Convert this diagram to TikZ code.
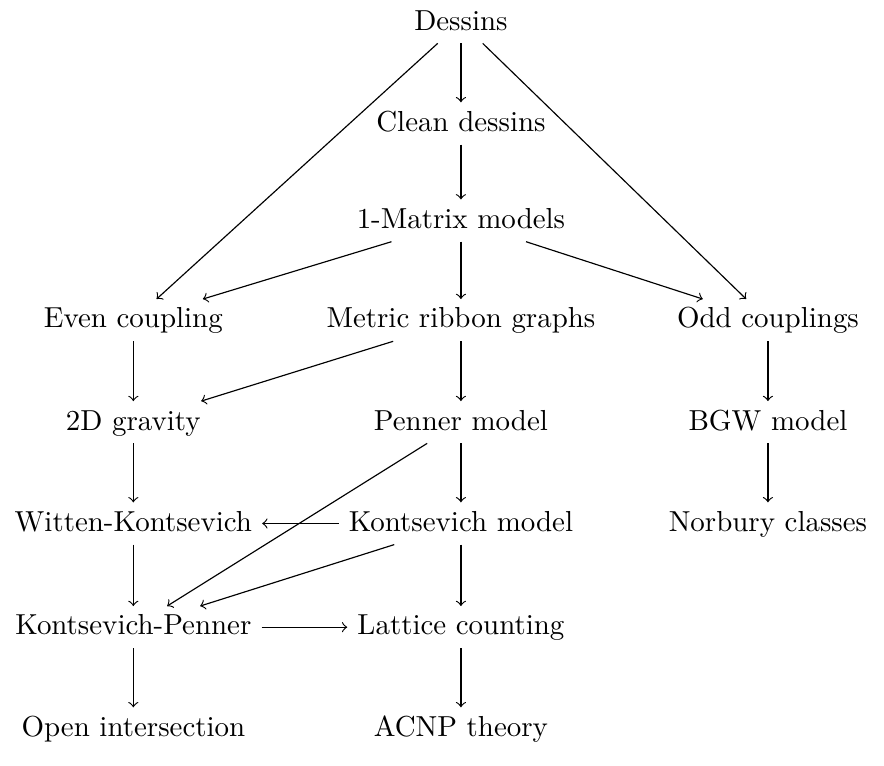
\documentclass[tikz,border=0pt]{standalone}
\usepackage{amsmath}
\usepackage{amssymb}
\usepackage{tikz}

\begin{document}
\begin{tikzpicture}[every node/.style={text height=1.5ex,text depth=.25ex}]
\useasboundingbox (0,0) rectangle (10.74,-9.3);
\node (dessins) at (5.60,-0.27) {Dessins};
\node (clean) at (5.60,-1.50) {Clean dessins};
\node (matrix) at (5.60,-2.68) {1-Matrix models};
\node (even) at (1.62,-3.89) {Even coupling};
\node (ribbon) at (5.60,-3.89) {Metric ribbon graphs};
\node (odd) at (9.33,-3.89) {Odd couplings};
\node (gravity) at (1.62,-5.13) {2D gravity};
\node (penner) at (5.60,-5.13) {Penner model};
\node (bgw) at (9.33,-5.13) {BGW model};
\node (wk) at (1.62,-6.36) {Witten-Kontsevich};
\node (kont) at (5.60,-6.36) {Kontsevich model};
\node (norbury) at (9.33,-6.36) {Norbury classes};
\node (kp) at (1.62,-7.62) {Kontsevich-Penner};
\node (lattice) at (5.60,-7.62) {Lattice counting};
\node (open) at (1.62,-8.85) {Open intersection};
\node (acnp) at (5.60,-8.85) {ACNP theory};
\draw[->] (dessins) -- (clean);
\draw[->] (dessins) -- (even);
\draw[->] (dessins) -- (odd);
\draw[->] (clean) -- (matrix);
\draw[->] (matrix) -- (even);
\draw[->] (matrix) -- (ribbon);
\draw[->] (matrix) -- (odd);
\draw[->] (even) -- (gravity);
\draw[->] (ribbon) -- (gravity);
\draw[->] (ribbon) -- (penner);
\draw[->] (odd) -- (bgw);
\draw[->] (bgw) -- (norbury);
\draw[->] (gravity) -- (wk);
\draw[->] (penner) -- (kont);
\draw[->] (penner) -- (kp);
\draw[->] (kont) -- (wk);
\draw[->] (kont) -- (kp);
\draw[->] (kont) -- (lattice);
\draw[->] (wk) -- (kp);
\draw[->] (kp) -- (lattice);
\draw[->] (kp) -- (open);
\draw[->] (lattice) -- (acnp);
\end{tikzpicture}
\end{document}
